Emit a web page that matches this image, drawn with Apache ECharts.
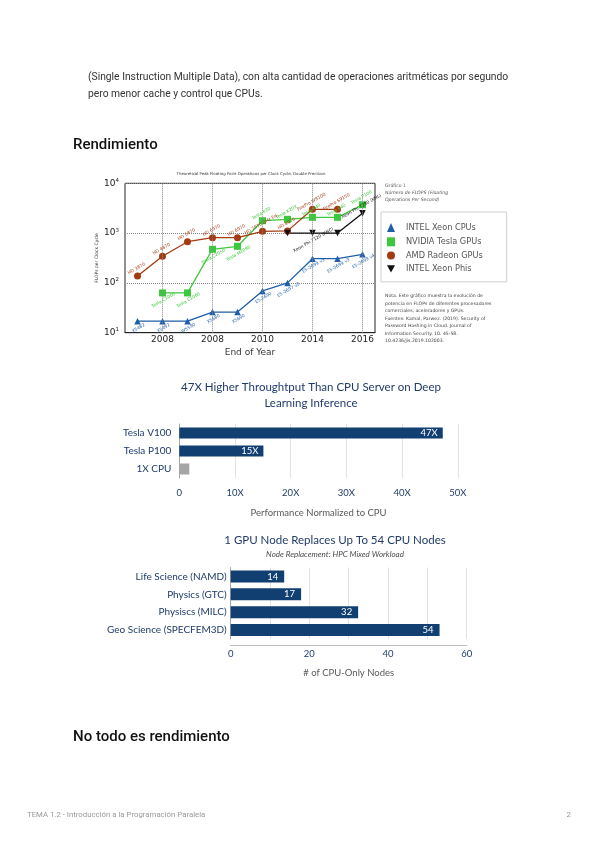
<!DOCTYPE html>
<html><head><meta charset="utf-8">
<script src="https://cdn.jsdelivr.net/npm/echarts@6/dist/echarts.min.js"></script>
<style>html,body{margin:0;padding:0;background:#fff}#c{width:600px;height:848px}</style>
</head><body><div id="c"></div>
<script>
// ---------- Chart 1 data ----------
const years = ['2007','2008','2009','2010','2011','2012','2013','2014','2015','2016'];
const xTickYears = ['2008','2010','2012','2014','2016'];
const xTickText  = ['2008','2008','2010','2014','2016'];
const cpuFlops    = [17, 17, 17, 26, 26, 69, 100, 306, 306, 375];
const nvidiaFlops = [null, 63, 63, 473, 543, 1774, 1892, 2075, 2075, 3715];
const amdFlops    = [138, 342, 671, 809, 809, 1087, 1108, 3006, 3006, null];
const phiFlops    = [null, null, null, null, null, null, 1000, 1000, 1000, 2500];
const cpuNames    = ['X5482','X5492','W5590','X5680','X5690','E5-2690','E5-2697 v2','E5-2699 v3','E5-2699 v3','E5-2699 v4'];
const nvidiaNames = ['','Tesla C1060','Tesla C1060','Tesla C2050','Tesla M2090','Tesla K20','Tesla K20X','Tesla K40','Tesla K40','Tesla P100'];
const amdNames    = ['HD 3870','HD 4870','HD 5870','HD 6970','HD 6970','HD 7970 GHz Ed.','HD 8970','FirePro W9100','FirePro S9150',''];
const phiNames    = ['','','','','','','','Xeon Phi 7120 (KNC)','','Xeon Phi 7290 (KNL)'];
const seriesNames = ['INTEL Xeon CPUs','NVIDIA Tesla GPUs','AMD Radeon GPUs','INTEL Xeon Phis'];

// ---------- Chart 2 data ----------
const dlCategories = ['Tesla V100','Tesla P100','1X CPU'];
const dlValues     = [47.3, 15.1, 1.8];
const dlLabels     = ['47X','15X',''];
const dlTicks      = [0, 10, 20, 30, 40, 50];

// ---------- Chart 3 data ----------
const hpcCategories = ['Life Science (NAMD)','Physics (GTC)','Physiscs (MILC)','Geo Science (SPECFEM3D)'];
const hpcValues     = [13.6, 17.9, 32.4, 53.1];
const hpcLabels     = ['14','17','32','54'];

const NAVY = '#123f72';
const TXTBLUE = '#1f3b68';
const C_CPU = '#1f5ea8', C_NV = '#3cc83c', C_AMD = '#a33a12', C_PHI = '#111';
const downTri = 'path://M0,0 L10,0 L5,9 Z';

function items(vals, names, posFn, color) {
  return vals.map((v, i) => v == null ? null : {
    value: v,
    label: { show: !!names[i], formatter: names[i], position: posFn(i), rotate: 30, distance: 2,
             fontSize: 4.4, color: color, fontFamily: 'DejaVu Sans' }
  });
}

const T = (x, y, text, font, fill, align) => ({
  type: 'text', x: x, y: y, silent: true,
  style: { text: text, font: font, fill: fill || '#333', verticalAlign: 'middle', align: align || 'left' }
});

const chart = echarts.init(document.getElementById('c'), null, { renderer: 'canvas' });
const option = {
  animation: false,
  backgroundColor: '#fff',
  graphic: [
    T(88, 77, '(Single Instruction Multiple Data), con alta cantidad de operaciones aritméticas por segundo', '10.3px Roboto', '#333'),
    T(88, 94, 'pero menor cache y control que CPUs.', '10.3px Roboto', '#333'),
    T(73, 145, 'Rendimiento', '500 15px Roboto', '#111'),
    T(73, 737, 'No todo es rendimiento', '500 15px Roboto', '#111'),
    T(27, 815, 'TEMA 1.2 - Introducción a la Programación Paralela', '7.8px Roboto', '#999'),
    T(571, 815, '2', '7.8px Roboto', '#999', 'right'),
    T(251, 174, 'Theoretical Peak Floating Point Operations per Clock Cycle, Double Precision', '3.9px "DejaVu Sans"', '#333', 'center'),
    T(385, 186, 'Gráfico 1', '4.6px "DejaVu Sans"', '#555'),
    T(385, 193, 'Número de FLOPS (Floating', 'italic 4.6px "DejaVu Sans"', '#555'),
    T(385, 200, 'Operations Per Second)', 'italic 4.6px "DejaVu Sans"', '#555'),
    T(385, 296, 'Nota. Este gráfico muestra la evolución de', '4.6px "DejaVu Sans"', '#444'),
    T(385, 303.5, 'potencia en FLOPs de diferentes procesadores', '4.6px "DejaVu Sans"', '#444'),
    T(385, 311, 'comerciales, aceleradores y GPUs.', '4.6px "DejaVu Sans"', '#444'),
    T(385, 318.5, 'Fuentes: Kamal, Parwez. (2019). Security of', '4.6px "DejaVu Sans"', '#444'),
    T(385, 326, 'Password Hashing in Cloud. Journal of', '4.6px "DejaVu Sans"', '#444'),
    T(385, 333.5, 'Information Security. 10. 45-58.', '4.6px "DejaVu Sans"', '#444'),
    T(385, 341, '10.4236/jis.2019.102003.', '4.6px "DejaVu Sans"', '#444'),
    T(311, 387, '47X Higher Throughtput Than CPU Server on Deep', '11.5px Lato', TXTBLUE, 'center'),
    T(311, 403, 'Learning Inference', '11.5px Lato', TXTBLUE, 'center'),
    T(335, 540, '1 GPU Node Replaces Up To 54 CPU Nodes', '11.5px Lato', TXTBLUE, 'center'),
    T(335, 554, 'Node Replacement: HPC Mixed Workload', 'italic 8px Lato', '#4a4a4a', 'center')
  ],
  legend: {
    orient: 'vertical', left: 381, top: 212, padding: [11, 24, 9, 6],
    borderColor: '#d0d0d0', borderWidth: 1, itemWidth: 8, itemHeight: 9, itemGap: 5.3,
    textStyle: { fontSize: 8.2, color: '#555', fontFamily: 'DejaVu Sans', padding: [0, 0, 0, 6] },
    data: [
      { name: seriesNames[0], icon: 'triangle', itemStyle: { color: C_CPU } },
      { name: seriesNames[1], icon: 'rect', itemStyle: { color: C_NV } },
      { name: seriesNames[2], icon: 'circle', itemStyle: { color: C_AMD } },
      { name: seriesNames[3], icon: downTri, itemStyle: { color: C_PHI } }
    ]
  },
  grid: [
    { left: 125, top: 183.3, width: 250, height: 149.4, show: true, borderColor: '#222', borderWidth: 1, backgroundColor: 'transparent' },
    { left: 179.3, top: 424, width: 278.5, height: 54 },
    { left: 230.7, top: 567.5, width: 236, height: 71.5 }
  ],
  xAxis: [
    {
      gridIndex: 0, type: 'category', data: years, boundaryGap: true,
      axisLine: { lineStyle: { color: '#222' } }, axisTick: { show: false }, splitLine: { show: false },
      axisLabel: {
        interval: (i, v) => xTickYears.indexOf(v) >= 0,
        formatter: v => xTickText[xTickYears.indexOf(v)] || '',
        fontSize: 9, color: '#222', fontFamily: 'DejaVu Sans', margin: 2
      },
      name: 'End of Year', nameLocation: 'middle', nameGap: 15,
      nameTextStyle: { fontSize: 9, color: '#333', fontFamily: 'DejaVu Sans' }
    },
    {
      gridIndex: 1, type: 'value', min: 0, max: 50, interval: 10,
      axisLine: { show: false }, axisTick: { show: false },
      splitLine: { lineStyle: { color: '#e2e2e2' } },
      axisLabel: { formatter: v => (dlTicks.indexOf(v) >= 0 ? (v === 0 ? '0' : v + 'X') : ''), fontSize: 9.5, color: TXTBLUE, fontFamily: 'Lato', margin: 10 },
      name: 'Performance Normalized to CPU', nameLocation: 'middle', nameGap: 30,
      nameTextStyle: { fontSize: 9.5, color: '#595959', fontFamily: 'Lato' }
    },
    {
      gridIndex: 2, type: 'value', min: 0, max: 60, interval: 10, offset: 6,
      axisLine: { show: true, lineStyle: { color: '#bfbfbf' } }, axisTick: { show: false },
      splitLine: { lineStyle: { color: '#e2e2e2' } },
      axisLabel: { formatter: v => (v % 20 === 0 ? String(v) : ''), fontSize: 9.5, color: TXTBLUE, fontFamily: 'Lato', margin: 4 },
      name: '# of CPU-Only Nodes', nameLocation: 'middle', nameGap: 23,
      nameTextStyle: { fontSize: 9.5, color: '#595959', fontFamily: 'Lato' }
    }
  ],
  yAxis: [
    {
      gridIndex: 0, type: 'log', logBase: 10, min: 10, max: 10000,
      axisLine: { lineStyle: { color: '#222' } },
      axisTick: { inside: true, length: 3, lineStyle: { color: '#222' } },
      splitLine: { show: true, lineStyle: { type: 'dotted', color: '#888' } },
      axisLabel: {
        formatter: v => '{b|10}{s|' + Math.round(Math.log10(v)) + '}',
        margin: 6,
        rich: {
          b: { fontSize: 9, color: '#222', fontFamily: 'DejaVu Sans' },
          s: { fontSize: 5.5, color: '#222', fontFamily: 'DejaVu Sans', padding: [0, 0, 6, 0] }
        }
      },
      name: 'FLOPs per Clock Cycle', nameLocation: 'middle', nameGap: 26,
      nameTextStyle: { fontSize: 4.5, color: '#333', fontFamily: 'DejaVu Sans' }
    },
    {
      gridIndex: 1, type: 'category', inverse: true, data: dlCategories,
      axisLine: { lineStyle: { color: '#a6a6a6' } }, axisTick: { show: false },
      axisLabel: { fontSize: 10, color: TXTBLUE, fontFamily: 'Lato', margin: 8 }
    },
    {
      gridIndex: 2, type: 'category', inverse: true, data: hpcCategories,
      axisLine: { lineStyle: { color: '#a6a6a6' } }, axisTick: { show: false },
      axisLabel: { fontSize: 10, color: TXTBLUE, fontFamily: 'Lato', margin: 4 }
    }
  ],
  series: [
    {
      name: seriesNames[0], type: 'line', xAxisIndex: 0, yAxisIndex: 0,
      data: items(cpuFlops, cpuNames, () => 'bottom', C_CPU),
      symbol: 'triangle', symbolSize: 6.5, color: C_CPU, lineStyle: { width: 1.3 },
      markLine: {
        silent: true, symbol: 'none', label: { show: false },
        lineStyle: { type: 'dotted', color: '#888', width: 1 },
        data: xTickYears.map(y => ({ xAxis: y }))
      }
    },
    {
      name: seriesNames[1], type: 'line', xAxisIndex: 0, yAxisIndex: 0,
      data: items(nvidiaFlops, nvidiaNames, i => (i <= 4 ? 'bottom' : 'top'), C_NV),
      symbol: 'rect', symbolSize: 7, color: C_NV, lineStyle: { width: 1.3 }
    },
    {
      name: seriesNames[2], type: 'line', xAxisIndex: 0, yAxisIndex: 0,
      data: items(amdFlops, amdNames, () => 'top', C_AMD),
      symbol: 'circle', symbolSize: 7, color: C_AMD, lineStyle: { width: 1.3 }
    },
    {
      name: seriesNames[3], type: 'line', xAxisIndex: 0, yAxisIndex: 0,
      data: items(phiFlops, phiNames, i => (i === 7 ? 'bottom' : 'top'), C_PHI),
      symbol: downTri, symbolSize: 6.5, color: C_PHI, lineStyle: { width: 1.3 }
    },
    {
      type: 'bar', xAxisIndex: 1, yAxisIndex: 1, barWidth: 11,
      data: dlValues.map((v, i) => ({ value: v, itemStyle: { color: dlLabels[i] ? NAVY : '#a5a5a5' } })),
      label: { show: true, position: 'insideRight', distance: 5, color: '#fff', fontSize: 9.5, fontFamily: 'Lato',
               formatter: p => dlLabels[p.dataIndex] }
    },
    {
      type: 'bar', xAxisIndex: 2, yAxisIndex: 2, barWidth: 12,
      data: hpcValues, itemStyle: { color: NAVY },
      label: { show: true, position: 'insideRight', distance: 6, color: '#fff', fontSize: 9.5, fontFamily: 'Lato',
               formatter: p => hpcLabels[p.dataIndex] }
    }
  ]
};
chart.setOption(option);
</script></body></html>
